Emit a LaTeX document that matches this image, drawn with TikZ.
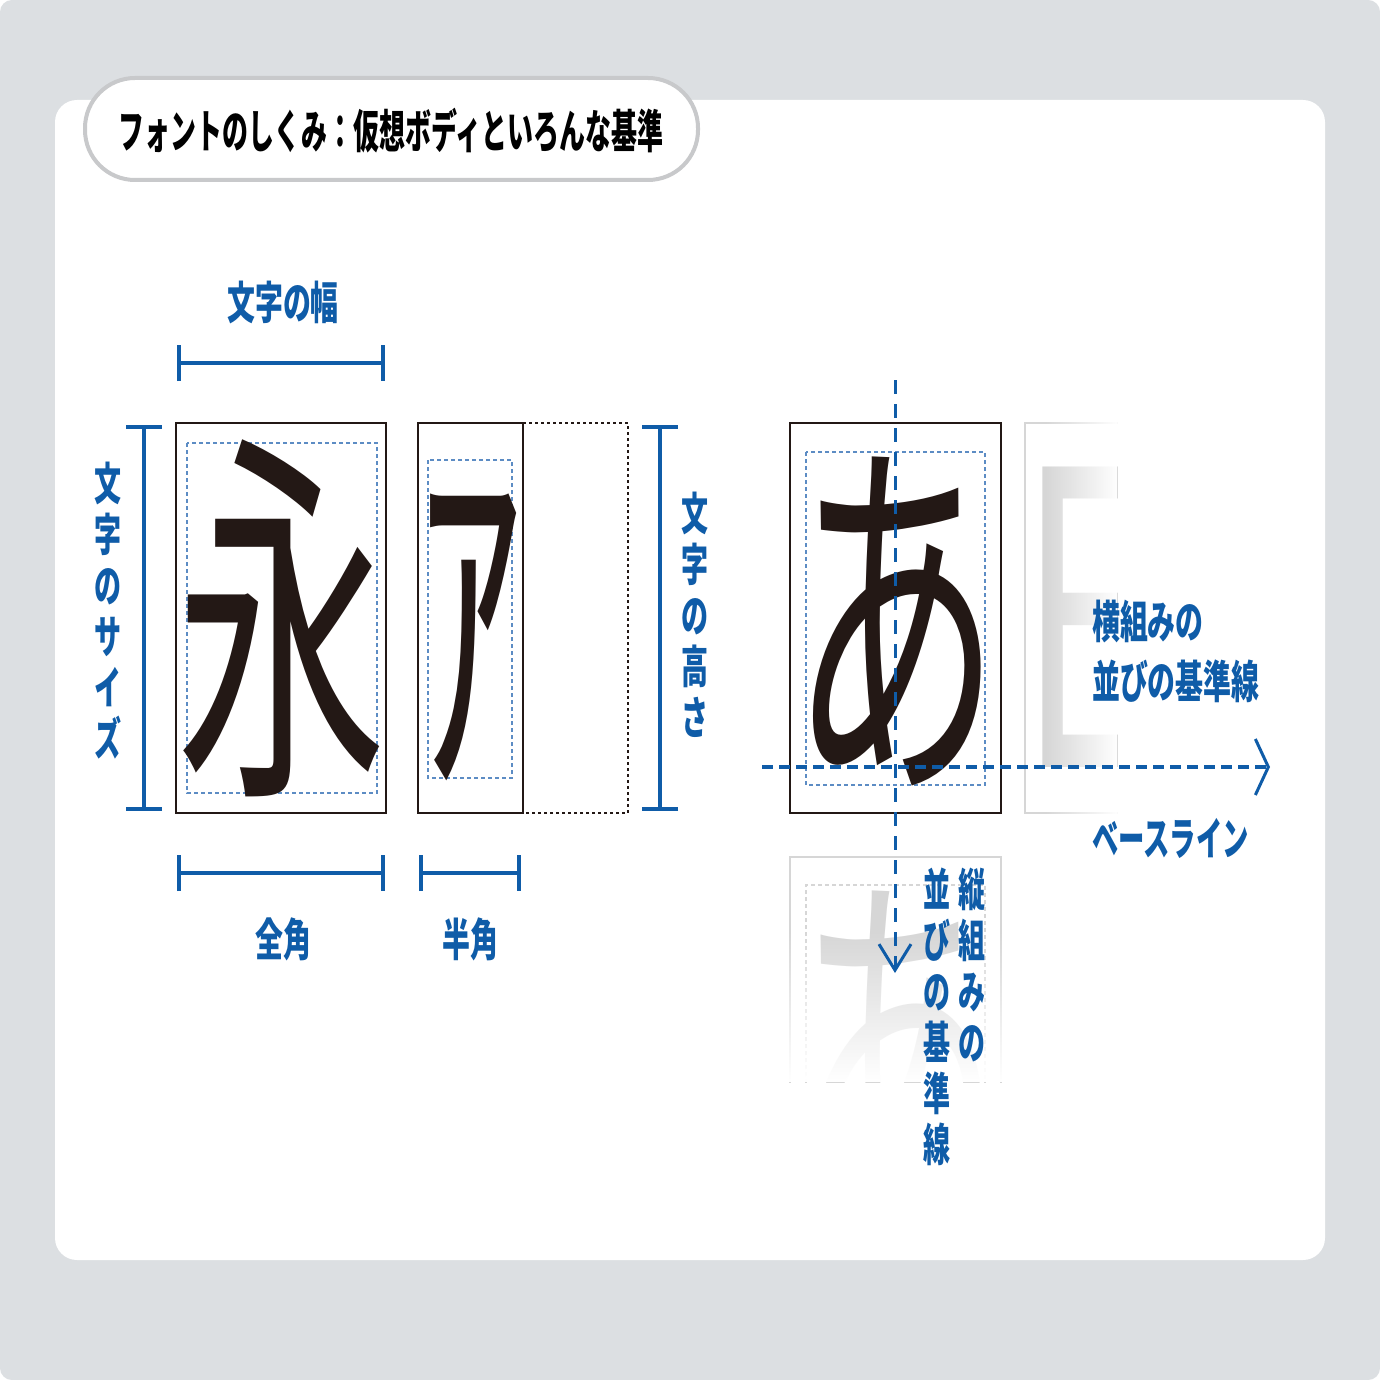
\documentclass[tikz,border=0pt]{standalone}
\usepackage{fontspec}
\newfontfamily\jp{Noto Sans CJK JP}
\usetikzlibrary{arrows.meta,fadings}

\definecolor{fontblue}{HTML}{0F5CA8}
\definecolor{inkblack}{HTML}{231815}
\definecolor{bggray}{HTML}{DCDFE2}
\definecolor{pillgray}{HTML}{C8C9CB}
\definecolor{guideblue}{HTML}{5C8CC4}
\definecolor{fadegray}{HTML}{D6D6D6}

\tikzset{
  bigglyph/.style={font=\jp\fontsize{390}{390}\selectfont, text=inkblack,
                   xscale=0.54, anchor=base},
  lbl/.style={font=\jp\bfseries\fontsize{45}{45}\selectfont, text=fontblue,
              xscale=0.62},
  vlbl/.style={font=\jp\bfseries\fontsize{45}{51}\selectfont, text=fontblue,
               xscale=0.60, align=center, anchor=north},
  body/.style={draw=inkblack, line width=2},
  guide/.style={draw=guideblue, line width=1.2, dash pattern=on 4 off 3},
  dimline/.style={draw=fontblue, line width=4, {Bar[width=36pt]}-{Bar[width=36pt]}},
  baseline/.style={draw=fontblue, line width=4.5, dash pattern=on 11 off 6,
                   -{Straight Barb[length=13pt,width=56pt,line width=3pt]}},
}

\begin{document}
\begin{tikzpicture}[x=1pt, y=-1pt, every node/.append style={inner sep=0pt}]
    \useasboundingbox (0,0) rectangle (1380,1380);
    \fill[white] (0,0) rectangle (1380,1380);
    \fill[bggray, rounded corners=12] (0,0) rectangle (1380,1380);
    \fill[white, rounded corners=22] (55,100) rectangle (1325,1260);

    % title
    \node[draw=pillgray, line width=4, fill=white, rounded corners=50,
          minimum width=613, minimum height=102] (pill) at (391.5,129) {};
    \node[font=\jp\bfseries\fontsize{46}{46}\selectfont, xscale=0.564] (title)
          at (391,131) {フォントのしくみ：仮想ボディといろんな基準};

    % full width
    \node[body, minimum width=210, minimum height=390] (eibody) at (281,618) {};
    \draw[guide] (187,443) rectangle (377,793);
    \node[bigglyph] (ei) at (282,766) {永};

    % half width
    \node[body, minimum width=105, minimum height=390] (abody) at (470.5,618) {};
    \draw[inkblack, line width=2, dash pattern=on 3 off 3]
          (523,423) -- (628,423) -- (628,813) -- (523,813);
    \draw[guide] (428,460) rectangle (512,778);
    \node[bigglyph] (akata) at (470.5,766) {ｱ};

    % dimension lines
    \coordinate (wid1) at (177,363);  \coordinate (wid2) at (385,363);
    \coordinate (siz1) at (144,425);  \coordinate (siz2) at (144,811);
    \coordinate (hgt1) at (660,425);  \coordinate (hgt2) at (660,811);
    \coordinate (zen1) at (177,873);  \coordinate (zen2) at (385,873);
    \coordinate (han1) at (419,873);  \coordinate (han2) at (521,873);
    \draw[dimline] (wid1) -- (wid2);
    \draw[dimline] (siz1) -- (siz2);
    \draw[dimline] (hgt1) -- (hgt2);
    \draw[dimline] (zen1) -- (zen2);
    \draw[dimline] (han1) -- (han2);

    \node[lbl] (widlbl) at (283,302) {文字の幅};
    \node[lbl] (zenlbl) at (283,939) {全角};
    \node[lbl] (hanlbl) at (470,939) {半角};
    \node[vlbl] (sizlbl) at (108,462) {文\\字\\の\\サ\\イ\\ズ};
    \node[vlbl] (hgtlbl) at (695,492) {文\\字\\の\\高\\さ};

    % next character, faded to the right
    \begin{scope}
      \clip (1020,415) rectangle (1117,820);
      \draw[fadegray, line width=2] (1118,423) -- (1025,423) -- (1025,813) -- (1118,813);
      \node[bigglyph, text=fadegray, anchor=base west,
            font=\jp\fontsize{410}{410}\selectfont] (enext) at (1020,767) {E};
      \fill[white, path fading=west] (1045,418) rectangle (1118,818);
    \end{scope}

    % next character, faded downwards
    \begin{scope}
      \clip (785,850) rectangle (1006,1082);
      \draw[fadegray, line width=2] (790,1090) -- (790,857) -- (1001,857) -- (1001,1090);
      \draw[fadegray, line width=1.2, dash pattern=on 4 off 3]
            (806,1090) -- (806,885) -- (985,885) -- (985,1090);
      \node[bigglyph, text=fadegray] (anext) at (895.5,1200) {あ};
      \fill[white, path fading=north] (785,930) rectangle (1006,1082);
    \end{scope}

    % hiragana body
    \node[body, minimum width=211, minimum height=390] (hbody) at (895.5,618) {};
    \draw[guide] (806,452) rectangle (985,785);
    \node[bigglyph] (ahira) at (895.5,766) {あ};

    % baselines
    \coordinate (hb0) at (762,767);  \coordinate (hb1) at (1270,767);
    \coordinate (vb0) at (895,380);  \coordinate (vb1) at (895,973);
    \draw[baseline] (hb0) -- (hb1);
    \draw[draw=fontblue, line width=3, dash pattern=on 14 off 10,
          -{Straight Barb[length=26pt,width=32pt,line width=3pt]}] (vb0) -- (vb1);

    \node[lbl, anchor=north west, align=left, font=\jp\bfseries\fontsize{45}{60}\selectfont]
          (yokolbl) at (1092,600) {横組みの\\並びの基準線};
    \node[lbl, anchor=north west, xscale=0.944] (baselbl) at (1092,818) {ベースライン};
    \node[vlbl] (tate1) at (972,868) {縦\\組\\み\\の};
    \node[vlbl] (tate2) at (937,868) {並\\び\\の\\基\\準\\線};
\end{tikzpicture}
\end{document}
